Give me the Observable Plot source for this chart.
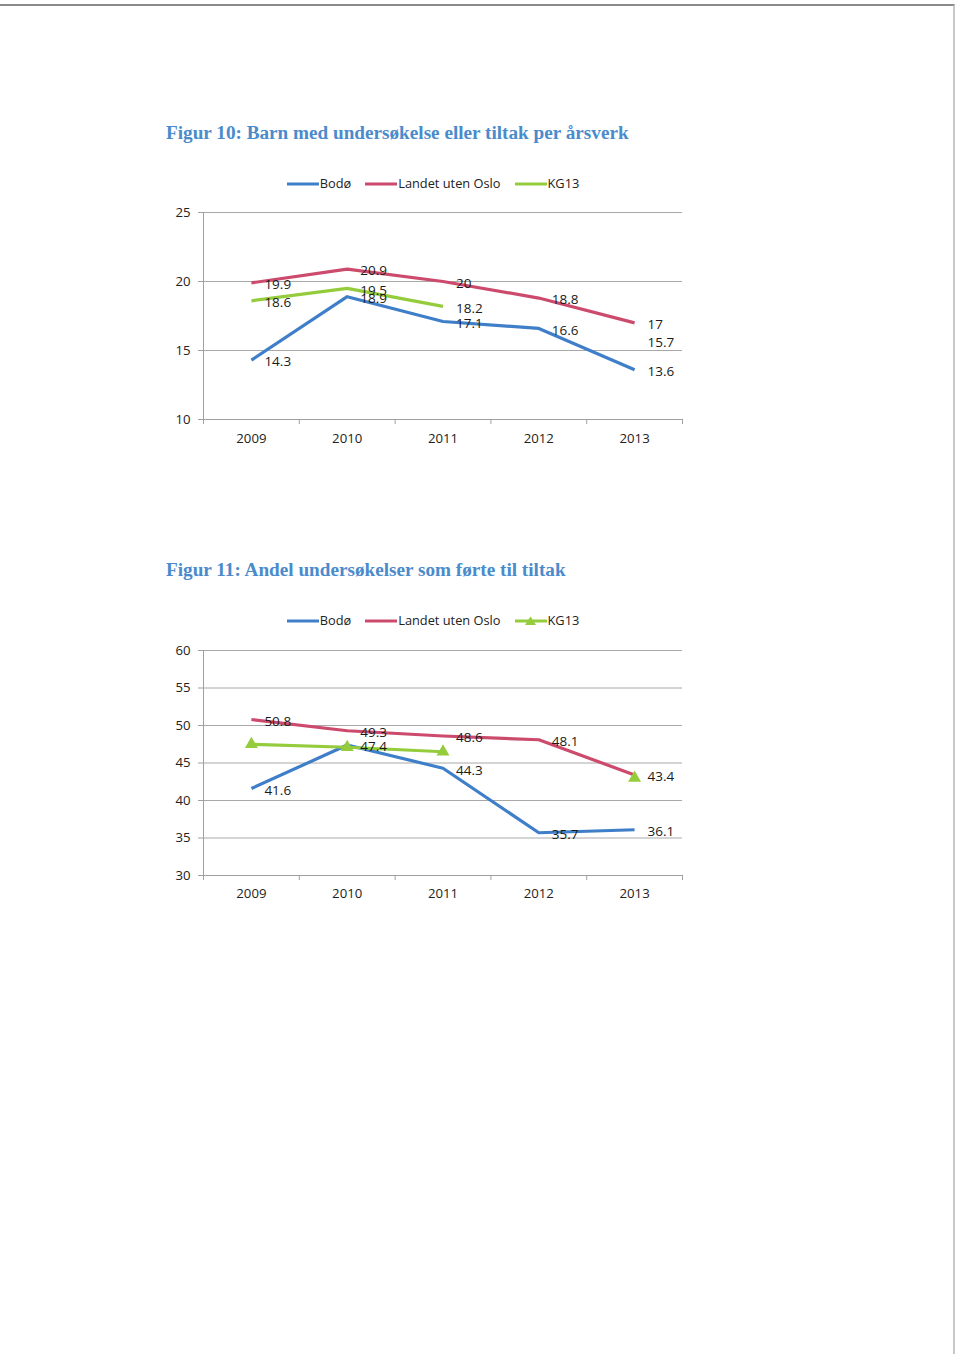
<!DOCTYPE html>
<html>
<head>
<meta charset="utf-8">
<script src="https://cdn.jsdelivr.net/npm/d3@7"></script>
<script src="https://cdn.jsdelivr.net/npm/@observablehq/plot@0.6"></script>
<style>
  html, body { margin: 0; padding: 0; background: #fff; }
  #page { position: relative; width: 960px; height: 1354px; background: #fff; overflow: hidden; }
  #edge { position: absolute; left: 0; top: 4px; width: 955px; height: 1360px; border-top: 2px solid #8a8a8a; border-right: 2px solid #c8c8c8; box-sizing: border-box; }
  .title { position: absolute; left: 166px; font-family: "Liberation Serif", "DejaVu Serif", serif; font-weight: bold; font-size: 19.2px; color: #4a8bcc; white-space: nowrap; line-height: 22px; }
  .legend { position: absolute; left: 0; width: 866px; text-align: center; font-family: "Open Sans", sans-serif; font-size: 12.8px; color: #222; line-height: 16px; white-space: nowrap; }
  .legend .item { display: inline-block; margin: 0 7px; }
  .legend svg { vertical-align: middle; margin-right: 1px; position: relative; top: -1px; }
  .chart { position: absolute; left: 0; }
</style>
</head>
<body>
<div id="page">
  <div id="edge"></div>
  <div class="title" style="top:122px">Figur 10: Barn med undersøkelse eller tiltak per årsverk</div>
  <div class="legend" id="leg1" style="top:175px"></div>
  <div class="chart" id="c1" style="top:195px"></div>
  <div class="title" style="top:559px">Figur 11: Andel undersøkelser som førte til tiltak</div>
  <div class="legend" id="leg2" style="top:612px"></div>
  <div class="chart" id="c2" style="top:630px"></div>
</div>
<script>
// ---- data ----
const years = [2009, 2010, 2011, 2012, 2013];
const seriesNames = ["Bodø", "Landet uten Oslo", "KG13"];
const seriesColors = ["#3f7ec8", "#cc4a6c", "#94cc3c"];

// Figur 10
const bodo10   = [14.3, 18.9, 17.1, 16.6, 13.6];
const landet10 = [19.9, 20.9, 20, 18.8, 17];
const kg10     = [18.6, 19.5, 18.2, null, 15.7];
const yTicks10 = [10, 15, 20, 25];

// Figur 11
const bodo11   = [41.6, 47.4, 44.3, 35.7, 36.1];
const landet11 = [50.8, 49.3, 48.6, 48.1, 43.4];
const kg11     = [47.5, 47.1, 46.5, null, 43.0];
const yTicks11 = [30, 35, 40, 45, 50, 55, 60];

// ---- helpers ----
function toRows(arrays) {
  const rows = [];
  arrays.forEach((vals, i) => {
    vals.forEach((v, j) => rows.push({series: seriesNames[i], year: years[j], value: v}));
  });
  return rows;
}

function legend(el, withTriangle) {
  el.innerHTML = seriesNames.map((name, i) => {
    const tri = (withTriangle && i === 2)
      ? `<path d="M15.5,1.5 L21,10 L10,10 Z" fill="${seriesColors[i]}"/>` : "";
    return `<span class="item"><svg width="32" height="12"><line x1="0" x2="32" y1="6" y2="6" stroke="${seriesColors[i]}" stroke-width="3"/>${tri}</svg>${name}</span>`;
  }).join("");
}

function chart({rows, labelRows, yTicks, height, marginTop, marginBottom, triangles, xPad}) {
  const bounds = [years[0] - 0.5, ...years.map(y => y + 0.5)];
  const axisColor = "#a0a0a0";
  const marks = [
    Plot.gridY({ticks: yTicks.slice(1), stroke: "#a8a8a8", strokeOpacity: 1}),
    Plot.ruleY([yTicks[0]], {stroke: axisColor}),
    Plot.ruleX([bounds[0]], {stroke: axisColor}),
    Plot.axisY({ticks: yTicks, tickSize: 5, tickPadding: 8, stroke: axisColor, tickFormat: d => String(d), fill: "#222", label: null}),
    Plot.axisX({ticks: bounds, tickSize: 5, tickFormat: () => "", stroke: axisColor, label: null}),
    Plot.axisX({ticks: years, tickSize: 0, tickPadding: xPad, tickFormat: d => String(d), fill: "#222", label: null}),
    Plot.line(rows, {x: "year", y: "value", z: "series", stroke: "series", strokeWidth: 3.2, strokeLinejoin: "round", strokeLinecap: "butt"})
  ];
  if (triangles) {
    marks.push(Plot.dot(rows.filter(d => d.series === "KG13" && d.value != null),
      {x: "year", y: "value", symbol: "triangle", r: 4.8, fill: "series", stroke: null}));
  }
  marks.push(Plot.text(labelRows.filter(d => d.value != null), {
    x: "year", y: "value", text: d => String(d.value), textAnchor: "start", dx: 13, dy: 2, fill: "#1a1a1a", fontSize: 13.5
  }));
  return Plot.plot({
    width: 960,
    height,
    marginLeft: 203,
    marginRight: 278,
    marginTop,
    marginBottom,
    style: {fontFamily: "'Open Sans', sans-serif", fontSize: "13.2px", background: "transparent", color: "#222"},
    x: {type: "linear", domain: [bounds[0], bounds[bounds.length - 1]], label: null},
    y: {type: "linear", domain: [yTicks[0], yTicks[yTicks.length - 1]], label: null},
    color: {domain: seriesNames, range: seriesColors},
    marks
  });
}

legend(document.getElementById("leg1"), false);
legend(document.getElementById("leg2"), true);

const rows10 = toRows([bodo10, landet10, kg10]);
document.getElementById("c1").appendChild(chart({
  rows: rows10, labelRows: rows10, yTicks: yTicks10,
  height: 265, marginTop: 17, marginBottom: 41, triangles: false, xPad: 14
}));

const rows11 = toRows([bodo11, landet11, kg11]);
document.getElementById("c2").appendChild(chart({
  rows: rows11, labelRows: rows11.filter(d => d.series !== "KG13"), yTicks: yTicks11,
  height: 290, marginTop: 20, marginBottom: 45, triangles: true, xPad: 13
}));
</script>
</body>
</html>
